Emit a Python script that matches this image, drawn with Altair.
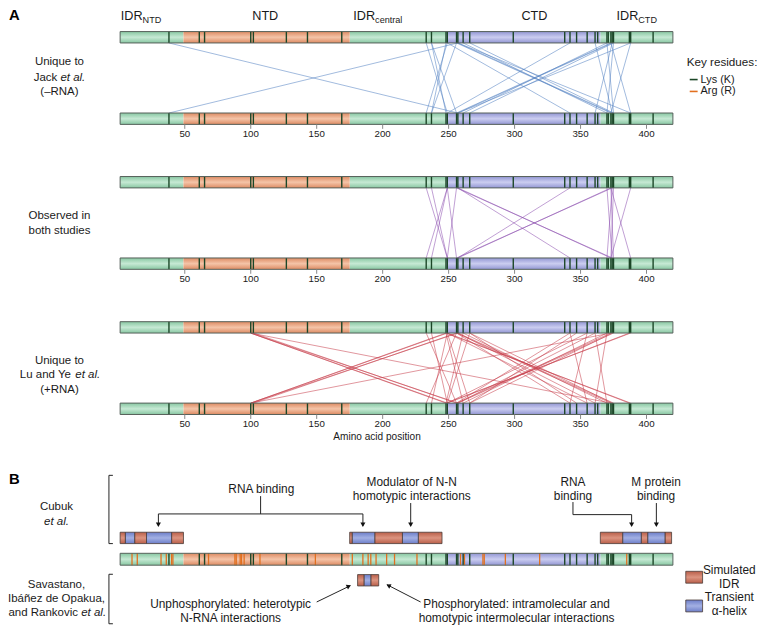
import altair as alt
import pandas as pd

# ------------------------------------------------------------------
# Values (amino-acid positions)
# ------------------------------------------------------------------
DOMAIN_START = [1, 49, 175, 248, 365]
DOMAIN_END = [49, 175, 248, 365, 420]
DOMAIN_KIND = ["idr", "ntd", "idr", "ctd", "idr"]

HEADER_MAIN = ["IDR", "NTD", "IDR", "CTD", "IDR"]
HEADER_SUB = ["NTD", "", "central", "", "CTD"]

LYS = [38, 61, 65, 100, 102, 127, 143, 169, 233, 237, 248, 249, 256, 257, 261,
       266, 299, 338, 342, 347, 355, 361, 363, 370, 371, 373, 374, 375, 387, 388, 405]
ARG = [10, 14, 32, 36, 40, 41, 68, 88, 89, 92, 93, 95, 107, 149, 177, 185, 189,
       191, 195, 203, 209, 226, 259, 262, 276, 277, 293, 319, 385]
TICKS = [50, 100, 150, 200, 250, 300, 350, 400]

# cross-links (drawn in both directions between the two copies)
JACK_FROM = [38, 233, 237, 237, 256, 257, 261, 266, 257, 249, 373, 370, 361]
JACK_TO = [257, 249, 248, 256, 373, 374, 370, 375, 388, 342, 388, 375, 374]
BOTH_FROM = [233, 237, 249, 257, 256, 257, 373, 370, 373]
BOTH_TO = [249, 249, 256, 373, 374, 342, 388, 374, 375]
LUYE_FROM = [100, 100, 102, 100, 100, 233, 237, 248, 249, 248, 249, 256, 257,
             261, 266, 256, 249, 257, 266, 342, 361]
LUYE_TO = [248, 249, 256, 257, 373, 256, 249, 261, 266, 388, 387, 373, 375,
           370, 374, 342, 355, 361, 347, 355, 370]

ROW_NAMES = ["jack", "both", "luye"]
ROW_COLORS = ["#4f7fc0", "#8a4cae", "#c63a48"]

# Cubuk et al. simulated fragments
CUBUK_START = [1, 5, 12, 21, 40, 175, 177, 194, 215, 227, 365, 382, 396, 401, 414]
CUBUK_END = [5, 12, 21, 40, 49, 177, 194, 215, 227, 245, 382, 396, 401, 414, 419]
CUBUK_KIND = ["idr", "helix", "idr", "helix", "idr",
              "idr", "helix", "idr", "helix", "idr",
              "idr", "helix", "idr", "helix", "idr"]
SAV_START = [181, 186, 191]
SAV_END = [186, 191, 197]
SAV_KIND = ["idr", "helix", "idr"]

# ------------------------------------------------------------------
# Layout (page pixels)
# ------------------------------------------------------------------
W, H = 757, 623
PX_PER_AA = 4 / 3
PX_AT_0 = 120.0
FONT = "Liberation Sans"
TXT = "#1a1a1a"


def aa(px):
    return (px - PX_AT_0) / PX_PER_AA


XS = alt.Scale(domain=[aa(8), aa(8 + W)], nice=False, zero=False)
YS = alt.Scale(domain=[8, 8 + H], reverse=True, nice=False, zero=False)


def ex(f):
    return alt.X(f, type="quantitative", scale=XS, axis=None)


def ey(f):
    return alt.Y(f, type="quantitative", scale=YS, axis=None)


BAR_H = 11.5
ROW_TOP = [28.5, 175.0, 321.7]
ROW_GAP = 82.3
B_BAR_Y, B_BAR_H = 555.8, 12.0
CUBUK_Y, SAV_Y, FRAG_H = 534.5, 577.3, 11.5

GRAD = {
    "idr": ("#88c7a2", "#c6e9d4"),
    "ntd": ("#dd8b63", "#f4c4a8"),
    "ctd": ("#9296d3", "#cbcdf0"),
    "sidr": ("#b95f4a", "#dc9480"),
    "helix": ("#6d7ec9", "#a3b0e3"),
}


def grad(kind):
    edge, mid = GRAD[kind]
    return alt.LinearGradient(
        gradient="linear",
        stops=[alt.GradientStop(color=edge, offset=0),
               alt.GradientStop(color=mid, offset=0.5),
               alt.GradientStop(color=edge, offset=1)],
        x1=0, x2=0, y1=0, y2=1)


# ------------------------------------------------------------------
# Tables
# ------------------------------------------------------------------
bars = []
for top in ROW_TOP:
    bars += [(top, BAR_H), (top + ROW_GAP, BAR_H)]
all_bars = bars + [(B_BAR_Y, B_BAR_H)]

seg = pd.DataFrame([dict(x=s, x2=e, y=y0, y2=y0 + h, kind=k)
                    for (y0, h) in all_bars
                    for s, e, k in zip(DOMAIN_START, DOMAIN_END, DOMAIN_KIND)])
outline = pd.DataFrame([dict(x=DOMAIN_START[0], x2=DOMAIN_END[-1], y=y0, y2=y0 + h)
                        for (y0, h) in all_bars])
lys = pd.DataFrame([dict(x=p, y=y0, y2=y0 + h) for (y0, h) in all_bars for p in LYS])
arg = pd.DataFrame([dict(x=p, y=B_BAR_Y, y2=B_BAR_Y + B_BAR_H) for p in ARG])

frag_rows = [dict(x=s, x2=e, y=CUBUK_Y, y2=CUBUK_Y + FRAG_H, kind=("sidr" if k == "idr" else k))
             for s, e, k in zip(CUBUK_START, CUBUK_END, CUBUK_KIND)]
frag_rows += [dict(x=s, x2=e, y=SAV_Y, y2=SAV_Y + FRAG_H, kind=("sidr" if k == "idr" else k))
              for s, e, k in zip(SAV_START, SAV_END, SAV_KIND)]
frag = pd.DataFrame(frag_rows)

xl_rows = []
for name, top, a_list, b_list in zip(ROW_NAMES, ROW_TOP,
                                     [JACK_FROM, BOTH_FROM, LUYE_FROM],
                                     [JACK_TO, BOTH_TO, LUYE_TO]):
    for a, b in zip(a_list, b_list):
        for p, q in ((a, b), (b, a)):
            xl_rows.append(dict(x=p, x2=q, y=top + BAR_H, y2=top + ROW_GAP, row=name))
xl = pd.DataFrame(xl_rows)

tick_rows, tick_lab = [], []
for top in ROW_TOP:
    yb = top + ROW_GAP + BAR_H
    for t in TICKS:
        tick_rows.append(dict(x=t, y=yb, y2=yb + 4.5))
        tick_lab.append(dict(x=t, y=yb + 10, text=str(t)))
ticks = pd.DataFrame(tick_rows)
ticklab = pd.DataFrame(tick_lab)

# ------------------------------------------------------------------
# Layers
# ------------------------------------------------------------------
layers = []

for name, col in zip(ROW_NAMES, ROW_COLORS):
    layers.append(alt.Chart(xl[xl.row == name]).mark_rule(
        color=col, strokeWidth=0.9, opacity=0.6).encode(
        x=ex("x"), x2="x2", y=ey("y"), y2="y2"))

for kind in ["idr", "ntd", "ctd"]:
    layers.append(alt.Chart(seg[seg.kind == kind]).mark_rect(fill=grad(kind)).encode(
        x=ex("x"), x2="x2", y=ey("y"), y2="y2"))

layers.append(alt.Chart(arg).mark_rule(color="#e2701f", strokeWidth=1.3).encode(
    x=ex("x"), y=ey("y"), y2="y2"))
layers.append(alt.Chart(lys).mark_rule(color="#1b4627", strokeWidth=1.4).encode(
    x=ex("x"), y=ey("y"), y2="y2"))
layers.append(alt.Chart(outline).mark_rect(fillOpacity=0, stroke="#56605a", strokeWidth=1).encode(
    x=ex("x"), x2="x2", y=ey("y"), y2="y2"))

for kind in ["sidr", "helix"]:
    layers.append(alt.Chart(frag[frag.kind == kind]).mark_rect(
        fill=grad(kind), stroke="#4a3a36", strokeWidth=0.8).encode(
        x=ex("x"), x2="x2", y=ey("y"), y2="y2"))

layers.append(alt.Chart(ticks).mark_rule(color="#888888", strokeWidth=1).encode(
    x=ex("x"), y=ey("y"), y2="y2"))
layers.append(alt.Chart(ticklab).mark_text(font=FONT, fontSize=9.8, color=TXT,
                                          baseline="middle").encode(
    x=ex("x"), y=ey("y"), text="text:N"))


def text_layer(rows, align="center", size=12, style="normal", weight="normal",
               color=TXT):
    df = pd.DataFrame(rows, columns=["text", "px", "y"])
    df["x"] = df["px"].map(aa)
    return alt.Chart(df).mark_text(font=FONT, align=align, baseline="middle",
                                   fontSize=size, fontStyle=style,
                                   fontWeight=weight, color=color).encode(
        x=ex("x"), y=ey("y"), text="text:N")


# headers
head_main_left = [(HEADER_MAIN[0], 122, 13), (HEADER_MAIN[2], 357, 13), (HEADER_MAIN[4], 623, 13)]
head_sub_left = [(HEADER_SUB[0], 144, 17), (HEADER_SUB[2], 379, 17), (HEADER_SUB[4], 645, 17)]
head_center = [(HEADER_MAIN[1], 268, 13), (HEADER_MAIN[3], 540, 13)]
layers.append(text_layer(head_main_left, align="left", size=12.8))
layers.append(text_layer(head_sub_left, align="left", size=9.2))
layers.append(text_layer(head_center, size=12.8))

# panel letters
layers.append(text_layer([("A", 9, 12), ("B", 9, 481)], align="left", size=15, weight="bold",
                         color="#000000"))

left_rows = [
    ("Unique to", 60, 59), ("(–RNA)", 60, 90),
    ("Observed in", 60, 215), ("both studies", 60, 230),
    ("Unique to", 60, 361), ("(+RNA)", 60, 391),
    ("Cubuk", 57, 509),
    ("Savastano,", 57, 588), ("Ibáñez de Opakua,", 57, 602),
]
layers.append(text_layer(left_rows, size=11.6))
center_rows = [
    ("RNA binding", 264, 490.5),
    ("Modulator of N-N", 416, 483.5), ("homotypic interactions", 416, 497.5),
    ("RNA", 579, 483.5), ("binding", 579, 497.5),
    ("M protein", 663, 483.5), ("binding", 663, 497.5),
    ("Unphosphorylated: heterotypic", 233, 607), ("N-RNA interactions", 233, 621),
    ("Phosphorylated: intramolecular and", 522, 607),
    ("homotypic intermolecular interactions", 522, 621),
    ("Simulated", 737, 573), ("IDR", 737, 586.5),
    ("Transient", 737, 600), ("α-helix", 737, 614),
]
layers.append(text_layer(center_rows))
layers.append(text_layer([("Amino acid position", 381, 438)], size=10.2))
layers.append(text_layer([("et al.", 57, 524)], style="italic", size=11.6))

# mixed normal / italic lines
mixed_normal = [("Jack ", 34, 75), ("Lu and Ye ", 20, 376), ("and Rankovic ", 8.5, 616)]
mixed_italic = [("et al.", 61, 75), ("et al.", 76, 376), ("et al.", 82, 616)]
layers.append(text_layer(mixed_normal, align="left", size=11.6))
layers.append(text_layer(mixed_italic, align="left", style="italic", size=11.6))

# key residues legend
layers.append(text_layer([("Key residues:", 694, 59)], align="left", size=11.8))
layers.append(text_layer([("Lys (K)", 708, 77), ("Arg (R)", 708, 89)], align="left", size=11))
leg_lines = pd.DataFrame([dict(x=aa(697), x2=aa(705), y=77, c="lys"),
                          dict(x=aa(697), x2=aa(705), y=89, c="arg")])
layers.append(alt.Chart(leg_lines[leg_lines.c == "lys"]).mark_rule(color="#1b4627", strokeWidth=1.6).encode(
    x=ex("x"), x2="x2", y=ey("y")))
layers.append(alt.Chart(leg_lines[leg_lines.c == "arg"]).mark_rule(color="#e2701f", strokeWidth=1.6).encode(
    x=ex("x"), x2="x2", y=ey("y")))

# panel B legend swatches
sw = pd.DataFrame([dict(x=aa(693), x2=aa(710), y=574, y2=586, kind="sidr"),
                   dict(x=aa(693), x2=aa(710), y=603, y2=615, kind="helix")])
for kind in ["sidr", "helix"]:
    layers.append(alt.Chart(sw[sw.kind == kind]).mark_rect(
        fill=grad(kind), stroke="#4a3a36", strokeWidth=0.8).encode(
        x=ex("x"), x2="x2", y=ey("y"), y2="y2"))

# brackets and arrows (page pixels)
seg_px = [
    (110, 110, 477, 546), (110, 114, 477, 477), (110, 114, 546, 546),
    (110, 110, 577, 627), (110, 114, 577, 577), (110, 114, 627, 627),
    (263.3, 263.3, 498, 516), (160, 366.7, 516, 516),
    (160, 160, 516, 528), (366.7, 366.7, 516, 528),
    (415, 415, 505, 528),
    (579, 579, 504, 516.7), (579, 638.3, 516.7, 516.7), (638.3, 638.3, 516.7, 528),
    (663.3, 663.3, 505, 528),
    (320, 354, 605, 588.5), (425, 391, 605, 587.5),
]
ann = pd.DataFrame([dict(x=aa(a), x2=aa(b), y=c, y2=d) for a, b, c, d in seg_px])
layers.append(alt.Chart(ann).mark_rule(color="#222222", strokeWidth=1).encode(
    x=ex("x"), x2="x2", y=ey("y"), y2="y2"))

heads_down = pd.DataFrame([dict(x=aa(p), y=527) for p in [160, 366.7, 415, 638.3, 663.3]])
layers.append(alt.Chart(heads_down).mark_point(shape="triangle-down", filled=True, size=26,
                                               color="#111111", opacity=1).encode(
    x=ex("x"), y=ey("y")))
layers.append(alt.Chart(pd.DataFrame([dict(x=aa(352.5), y=589)])).mark_point(
    shape="triangle-up", angle=64, filled=True, size=26, color="#111111", opacity=1).encode(
    x=ex("x"), y=ey("y")))
layers.append(alt.Chart(pd.DataFrame([dict(x=aa(392.5), y=588.3)])).mark_point(
    shape="triangle-up", angle=297, filled=True, size=26, color="#111111", opacity=1).encode(
    x=ex("x"), y=ey("y")))

chart = alt.layer(*layers).properties(
    width=W, height=H, padding=0, autosize=alt.AutoSizeParams(type="none")
).configure_view(stroke=None)

chart.save("out.html", embed_options={"renderer": "svg", "actions": False})
